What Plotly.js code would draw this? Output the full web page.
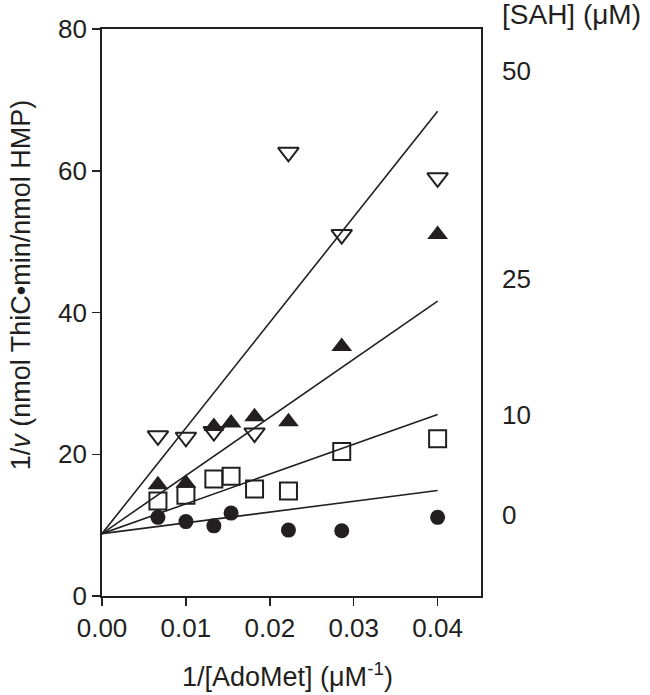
<!DOCTYPE html>
<html>
<head>
<meta charset="utf-8">
<script src="https://cdn.plot.ly/plotly-3.0.1.min.js"></script>
<style>html,body{margin:0;padding:0;background:#fff;}#chart{width:650px;height:695px;}</style>
</head>
<body>
<div id="chart"></div>
<script>
// Data: 1/[AdoMet] (µM^-1) and 1/v values for each [SAH] level
const sahLevels = ["0", "10", "25", "50"];

const x0 = [1/150, 1/100, 1/75, 1/65, 1/45, 1/35, 1/25];
const y0 = [11.1, 10.5, 9.9, 11.7, 9.3, 9.2, 11.1];

const x10 = [1/150, 1/100, 1/75, 1/65, 1/55, 1/45, 1/35, 1/25];
const y10 = [13.4, 14.2, 16.5, 16.9, 15.1, 14.8, 20.4, 22.2];

const x25 = [1/150, 1/100, 1/75, 1/65, 1/55, 1/45, 1/35, 1/25];
const y25 = [15.7, 15.9, 23.9, 24.4, 25.3, 24.6, 35.2, 51.0];

const x50 = [1/150, 1/100, 1/75, 1/55, 1/45, 1/35, 1/25];
const y50 = [22.6, 22.4, 23.2, 23.0, 62.6, 51.0, 59.0];

// Linear fits (shared intercept) drawn from 0 to 0.04
const fitIntercept = 8.8;
const fitSlopes = [152, 420, 820, 1490];
const fitXRange = [0, 0.04];

// Label positions for [SAH] on the right (y in data units)
const sahLabelY = [11.4, 25.6, 44.7, 74.1];

const xTicks = [0, 0.01, 0.02, 0.03, 0.04];
const yTicks = [0, 20, 40, 60, 80];

const ink = "#231f20";
const font = "Liberation Sans, Arial, sans-serif";

const traces = [];
fitSlopes.forEach(function (s) {
  traces.push({
    x: fitXRange,
    y: fitXRange.map(function (v) { return fitIntercept + s * v; }),
    mode: "lines", line: {color: ink, width: 1.6}, hoverinfo: "skip", showlegend: false
  });
});
traces.push({x: x0, y: y0, mode: "markers", showlegend: false,
  marker: {symbol: "circle", size: 15, color: ink}});
traces.push({x: x10, y: y10, mode: "markers", showlegend: false,
  marker: {symbol: "square-open", size: 17, color: ink, line: {width: 2, color: ink}}});
traces.push({x: x25, y: y25, mode: "markers", showlegend: false,
  marker: {symbol: "triangle-up", size: 18, color: ink}});
traces.push({x: x50, y: y50, mode: "markers", showlegend: false,
  marker: {symbol: "triangle-down-open", size: 18, color: ink, line: {width: 2, color: ink}}});

const annotations = [];
sahLevels.forEach(function (lab, i) {
  annotations.push({text: lab, xref: "paper", yref: "y", x: 1.05, y: sahLabelY[i],
    xanchor: "left", yanchor: "middle", showarrow: false, font: {size: 26, color: ink, family: font}});
});
annotations.push({text: "[SAH] (μM)", xref: "paper", yref: "paper", x: 1.05, y: 1.025,
  xanchor: "left", yanchor: "middle", showarrow: false, font: {size: 28, color: ink, family: font}});
annotations.push({text: "1/<i>v</i> (nmol ThiC•min/nmol HMP)", xref: "paper", yref: "paper",
  x: -0.215, y: 0.549, textangle: -90, xanchor: "center", yanchor: "middle", showarrow: false,
  font: {size: 27, color: ink, family: font}});
annotations.push({text: "1/[AdoMet] (μM<sup>-1</sup>)", xref: "paper", yref: "paper",
  x: 0.49, y: -0.105, xanchor: "center", yanchor: "top", showarrow: false,
  font: {size: 27, color: ink, family: font}});

const layout = {
  width: 650, height: 695,
  margin: {l: 102, r: 169, t: 29, b: 99},
  paper_bgcolor: "#fff", plot_bgcolor: "#fff",
  font: {family: font, color: ink, size: 26},
  xaxis: {range: [0, 0.04517], tickvals: xTicks, tickformat: ".2f", ticks: "outside", ticklen: 8,
    tickwidth: 1.5, tickcolor: ink, showline: true, linecolor: ink, linewidth: 1.8, mirror: true,
    showgrid: false, zeroline: false, tickfont: {size: 26, color: ink}},
  yaxis: {range: [0, 80], tickvals: yTicks, ticks: "outside", ticklen: 8, tickwidth: 1.5, tickcolor: ink,
    showline: true, linecolor: ink, linewidth: 1.8, mirror: true, showgrid: false, zeroline: false,
    tickfont: {size: 26, color: ink}},
  annotations: annotations
};

Plotly.newPlot("chart", traces, layout, {displayModeBar: false, staticPlot: true});
</script>
</body>
</html>
